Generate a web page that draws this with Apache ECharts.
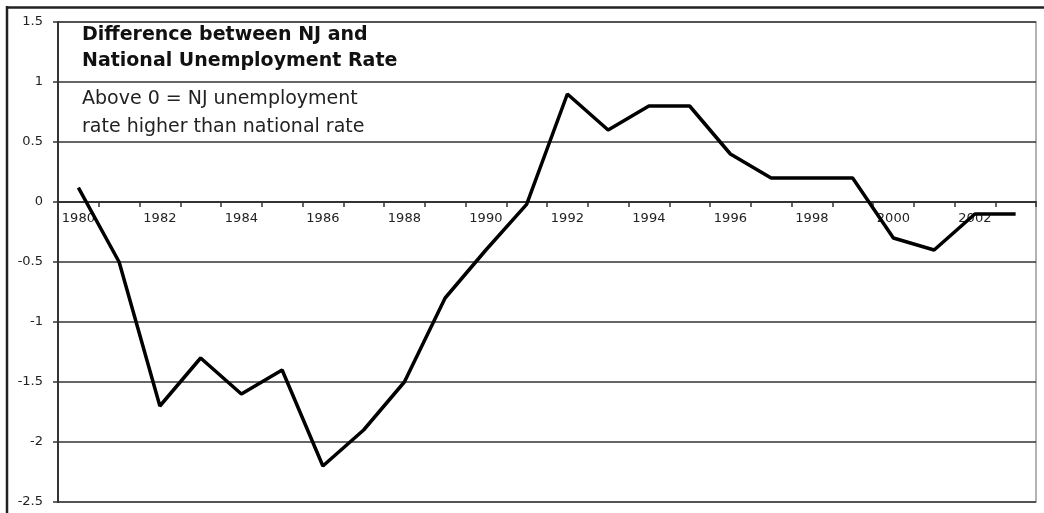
<!DOCTYPE html>
<html>
<head>
<meta charset="utf-8">
<script src="https://cdn.jsdelivr.net/npm/echarts@6/dist/echarts.min.js"></script>
<style>
html,body{margin:0;padding:0;background:#fff;}
#chart{width:1044px;height:513px;}
</style>
</head>
<body>
<div id="chart"></div>
<script>
var years = ['1980','1981','1982','1983','1984','1985','1986','1987','1988','1989','1990','1991',
             '1992','1993','1994','1995','1996','1997','1998','1999','2000','2001','2002','2003'];
var difference = [0.12,-0.5,-1.7,-1.3,-1.6,-1.4,-2.2,-1.9,-1.5,-0.8,-0.4,-0.02,
                  0.9,0.6,0.8,0.8,0.4,0.2,0.2,0.2,-0.3,-0.4,-0.1,-0.1];
var titleLines = ['Difference between NJ and', 'National Unemployment Rate'];
var noteLines = ['Above 0 = NJ unemployment', 'rate higher than national rate'];
var yMin = -2.5, yMax = 1.5, yStep = 0.5;

var W = 1044, H = 513;
var gridTop = 22, gridBottom = 11;
var plotH = H - gridTop - gridBottom;
var zeroFromBottom = plotH * (0 - yMin) / (yMax - yMin);

var chart = echarts.init(document.getElementById('chart'));
chart.setOption({
  animation: false,
  backgroundColor: '#fff',
  grid: {left: 58, right: 8, top: gridTop, bottom: gridBottom, show: true, borderColor: '#999', borderWidth: 1.5, backgroundColor: 'transparent'},
  xAxis: {
    type: 'category',
    data: years,
    boundaryGap: true,
    offset: -zeroFromBottom,
    axisLine: {onZero: false, lineStyle: {color: '#333', width: 2}},
    axisTick: {show: true, interval: 0, length: 5, lineStyle: {color: '#333', width: 1.5}},
    axisLabel: {interval: 1, color: '#222', fontFamily: 'DejaVu Sans', fontSize: 13, margin: 10},
    splitLine: {show: false}
  },
  yAxis: {
    type: 'value',
    min: yMin, max: yMax, interval: yStep,
    axisLine: {show: true, onZero: false, lineStyle: {color: '#333', width: 2}},
    axisTick: {show: true, length: 5, lineStyle: {color: '#333', width: 1.5}},
    axisLabel: {color: '#222', fontFamily: 'DejaVu Sans', fontSize: 13, margin: 15},
    splitLine: {show: true, lineStyle: {color: '#333', width: 1.5}}
  },
  series: [{
    type: 'line',
    data: difference,
    showSymbol: false,
    symbol: 'none',
    lineStyle: {color: '#000', width: 3.5},
    z: 5
  }],
  graphic: [
    {type: 'line', shape: {x1: 6, y1: 7.5, x2: W, y2: 7.5}, style: {stroke: '#222', lineWidth: 2.5}},
    {type: 'line', shape: {x1: 7, y1: 6, x2: 7, y2: H}, style: {stroke: '#222', lineWidth: 2.5}},
    {type: 'text', left: 82, top: 22, style: {text: titleLines.join('\n'), font: 'bold 19px "DejaVu Sans"', lineHeight: 26, fill: '#111'}},
    {type: 'text', left: 82, top: 85, style: {text: noteLines.join('\n'), font: '19px "DejaVu Sans"', lineHeight: 28, fill: '#222'}}
  ]
});
</script>
</body>
</html>
